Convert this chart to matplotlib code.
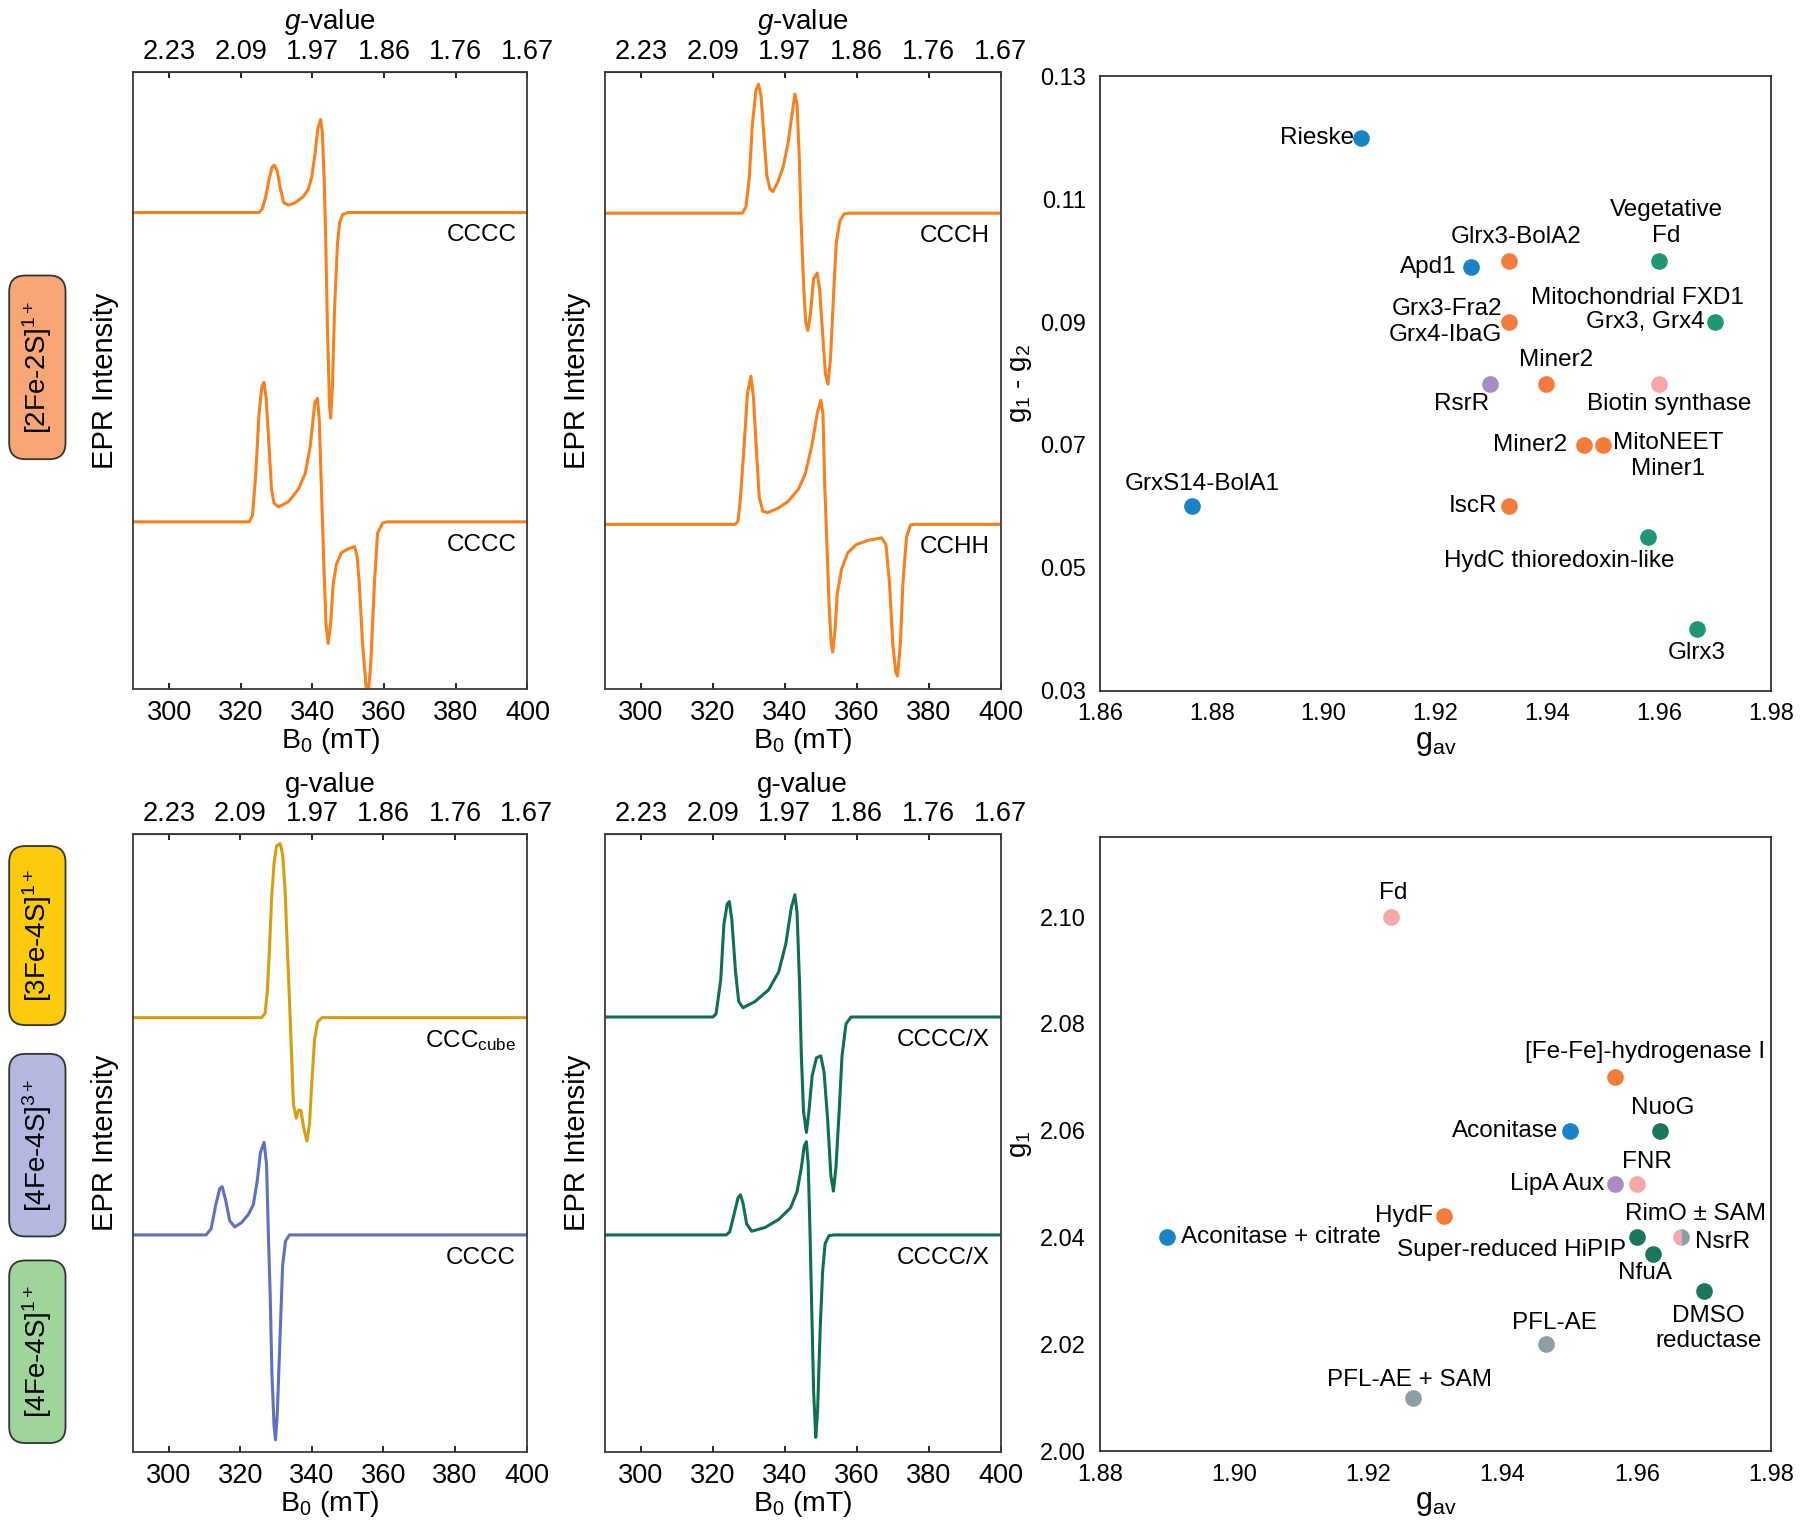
import matplotlib
matplotlib.use("Agg")
import matplotlib.pyplot as plt
from matplotlib.patches import FancyBboxPatch

plt.rcParams['font.family'] = ['Liberation Sans', 'DejaVu Sans']
plt.rcParams['mathtext.fontset'] = 'custom'
plt.rcParams['mathtext.rm'] = 'Liberation Sans'
plt.rcParams['mathtext.it'] = 'Liberation Sans:italic'
plt.rcParams['mathtext.bf'] = 'Liberation Sans:bold'

# ---------------- spectra (field in mT, intensity in a.u. relative to baseline)
B_TICKS = [300, 320, 340, 360, 380, 400]
G_LABELS = ["2.23", "2.09", "1.97", "1.86", "1.76", "1.67"]

fe2s_a_B = [290, 325.1, 326.0, 327.0, 327.9, 328.8, 329.4, 330.2, 331.1, 332.0, 333.4,
            335.2, 337.5, 338.9, 339.8, 340.7, 341.5, 342.3, 342.8, 343.3, 343.7, 344.2,
            344.8, 345.1, 345.6, 346.2, 347.0, 347.6, 348.5, 349.9, 400]
fe2s_a_I = [0, 0, 0.6, 2.6, 5.4, 7.4, 7.7, 6.7, 3.8, 1.6, 1.2,
            1.6, 2.6, 3.8, 5.8, 9.3, 13.5, 15.1, 12.8, 5.1, -3.8, -18.6,
            -31.4, -33.3, -28.2, -15.4, -5.1, -1.6, -0.3, 0, 0]

fe2s_b_B = [290, 322.4, 323.3, 324.2, 325.1, 325.9, 326.5, 327.1, 327.9, 328.6, 329.3,
            330.6, 333.4, 336.1, 338.0, 339.4, 340.7, 341.4, 341.9, 342.6, 343.2, 343.8,
            344.4, 345.1, 345.8, 346.7, 348.1, 349.9, 351.8, 352.5, 353.1, 354.0, 355.0,
            355.6, 356.3, 357.3, 358.2, 359.6, 360.9, 400]
fe2s_b_I = [0, 0, 1.1, 7.8, 17.4, 21.9, 22.6, 20, 12.3, 5.3, 3.0,
            2.4, 3.3, 5.3, 7.8, 12.3, 19.4, 20, 16.8, 4, -6.9, -16.5,
            -19.7, -16.5, -10.1, -6.9, -5.0, -4.4, -4.0, -5.6, -10.1, -19.7, -26.8,
            -27.8, -22.9, -10.1, -1.8, -0.2, 0, 0]

ccch_B = [290, 328.2, 329.2, 330.1, 331.0, 332.0, 332.7, 333.4, 334.2, 335.0, 335.9,
          336.7, 338.1, 339.5, 340.9, 342.1, 342.8, 343.4, 344.0, 344.5, 345.2, 345.8,
          346.4, 347.1, 348.0, 349.0, 349.7, 350.6, 351.3, 352.0, 352.7, 353.5, 354.3,
          355.3, 356.5, 357.9, 400]
ccch_I = [0, 0, 1.0, 5.5, 14.5, 19.9, 20.9, 19.0, 12.5, 6.1, 3.9,
          3.5, 5.1, 7.4, 11.3, 16.4, 19.3, 17.7, 9.3, -1.0, -11.3, -17.7,
          -19.0, -16.4, -10.6, -9.7, -12.5, -20.3, -26.1, -27.7, -23.5, -13.8, -4.8,
          -1.3, -0.1, 0, 0]

cchh_B = [290, 326.3, 327.0, 327.7, 328.7, 329.6, 330.6, 331.3, 332.1, 332.9, 333.9,
          335.3, 338.1, 340.9, 343.8, 345.7, 347.5, 349.0, 350.0, 350.6, 351.1, 351.7,
          352.3, 352.9, 353.3, 353.9, 354.6, 355.8, 357.5, 359.8, 363.1, 366.9, 368.1,
          369.1, 370.0, 370.8, 371.3, 372.1, 372.8, 373.8, 374.9, 376.3, 400]
cchh_I = [0, 0, 0.5, 4.4, 12.7, 21.1, 24.0, 20.5, 12.1, 4.4, 2.1,
          1.9, 2.6, 3.7, 5.7, 8.2, 12.7, 17.9, 20.1, 17.9, 6.3, -3.3,
          -13.0, -19.4, -20.7, -17.5, -11.1, -7.2, -4.6, -3.3, -2.6, -2.2, -3.3,
          -9.7, -19.4, -23.9, -24.6, -19.4, -9.7, -2.1, -0.1, 0, 0]

fe3s_B = [290, 325.9, 326.9, 327.5, 328.1, 328.7, 329.4, 330.1, 331.1, 331.8, 332.5,
          333.1, 333.7, 334.3, 334.8, 335.6, 336.2, 336.9, 337.7, 338.6, 339.3, 340.0,
          340.7, 341.6, 342.8, 400]
fe3s_I = [0, 0, 0.7, 4.2, 10.8, 19.2, 25.1, 27.8, 28.2, 26.4, 20.5,
          11.4, 2.9, -6.2, -14.0, -16.3, -15.0, -15.0, -17.9, -20.0, -17.3, -10.1,
          -3.6, -0.7, 0, 0]

fe4s3_B = [290, 310.4, 311.8, 313.1, 314.2, 314.9, 315.9, 317.0, 318.4, 320.3, 322.2,
           323.6, 324.7, 325.6, 326.6, 327.3, 327.8, 328.3, 328.8, 329.4, 329.8, 330.3,
           331.1, 331.8, 332.6, 333.7, 400]
fe4s3_I = [0, 0, 1.0, 4.9, 7.5, 7.8, 5.5, 2.3, 1.3, 2.0, 3.3,
           4.9, 8.8, 13.4, 15.0, 11.4, 0.3, -9.5, -22.5, -31.0, -33.2, -29.0,
           -16.0, -4.9, -1.0, 0, 0]

fe4s1_a_B = [290, 320.0, 320.9, 322.2, 323.1, 324.0, 324.6, 325.3, 326.3, 327.2, 328.4,
             331.7, 335.5, 338.3, 340.3, 341.8, 342.8, 343.4, 344.1, 344.6, 345.2, 346.0,
             346.7, 347.6, 348.8, 350.0, 350.9, 351.9, 352.8, 353.5, 354.2, 355.1, 355.9,
             357.0, 358.4, 359.8, 400]
fe4s1_a_I = [0, 0, 0.5, 6.0, 15.1, 18.3, 18.7, 15.7, 7.4, 2.5, 1.5,
             2.5, 4.4, 7.3, 11.9, 17.7, 19.8, 17.0, 5.4, -6.3, -15.3, -18.7,
             -15.3, -9.5, -6.6, -6.3, -8.9, -16.6, -25.7, -28.2, -24.4, -15.3, -6.3,
             -1.1, 0, 0, 0]

fe4s1_b_B = [290, 323.7, 324.7, 326.1, 327.0, 327.7, 328.4, 329.4, 330.8, 334.5, 338.3,
             341.6, 343.4, 344.6, 345.4, 346.0, 346.5, 347.0, 347.5, 348.0, 348.6, 349.1,
             349.8, 350.5, 351.2, 352.3, 353.7, 400]
fe4s1_b_I = [0, 0, 0.5, 3.8, 6.0, 6.5, 5.1, 1.8, 0.6, 1.2, 2.5,
             4.4, 7.0, 10.9, 14.4, 15.1, 11.5, 0.5, -12.4, -25.3, -32.8, -28.6,
             -15.7, -6.0, -1.4, -0.1, 0, 0]

# ---------------- scatter data
top_names = ["Rieske", "Apd1", "GrxS14-BolA1", "Glrx3-BolA2", "Grx3-Fra2\nGrx4-IbaG",
             "RsrR", "Miner2", "Miner2", "MitoNEET\nMiner1", "IscR", "Vegetative\nFd",
             "Mitochondrial FXD1|Grx3, Grx4", "Biotin synthase",
             "HydC thioredoxin-like", "Glrx3"]
top_gav = [1.9067, 1.9263, 1.8765, 1.9331, 1.9331, 1.9298, 1.9398, 1.9465, 1.9499,
           1.9331, 1.9600, 1.9700, 1.9600, 1.9580, 1.9667]
top_dg = [0.120, 0.099, 0.060, 0.100, 0.090, 0.080, 0.080, 0.070, 0.070,
          0.060, 0.100, 0.090, 0.080, 0.055, 0.040]
top_group = ["blue", "blue", "blue", "orange", "orange", "purple", "orange", "orange",
             "orange", "orange", "teal", "teal", "pink", "teal", "teal"]

bot_names = ["Fd", "[Fe-Fe]-hydrogenase I", "Aconitase", "NuoG", "LipA Aux", "FNR",
             "HydF", "Aconitase + citrate", "Super-reduced HiPIP", "NfuA",
             "RimO ± SAM|NsrR", "DMSO\nreductase", "PFL-AE", "PFL-AE + SAM"]
bot_gav = [1.9233, 1.9568, 1.9500, 1.9634, 1.9568, 1.9600, 1.9313, 1.8900, 1.9600,
           1.9624, 1.9666, 1.9700, 1.9465, 1.9266]
bot_g1 = [2.100, 2.070, 2.060, 2.060, 2.050, 2.050, 2.044, 2.040, 2.040, 2.037,
          2.040, 2.030, 2.020, 2.010]
bot_group = ["pink", "orange", "blue", "dkgreen", "purple", "pink", "orange", "blue",
             "dkgreen", "dkgreen", "pink/grey", "dkgreen", "grey", "grey"]

# ---------------- styles / layout
COL = {"blue": "#1784c7", "orange": "#f57b3b", "teal": "#1f9676", "dkgreen": "#1b765c",
       "purple": "#a78bc6", "pink": "#f7a7a6", "grey": "#8a9ea7"}
ORANGE = "#f7801f"
GOLD = "#d69e12"
LAV = "#5f70bd"
GREEN = "#0f6e55"

top_lab = [[(-5, 0, "right")], [(-10, 0, "right")], [(7, 16, "center")],
           [(5, 17, "center")], [(-5, 0, "right")], [(-21, -15, "center")],
           [(7, 17, "center")], [(-12, 0, "right")], [(47, -8, "center")],
           [(-8, 0, "right")], [(5, 27, "center")],
           [(-56, 17, "center"), (-8, 0, "right")], [(7, -15, "center")],
           [(-64, -17, "center")], [(0, -17, "center")]]
bot_lab = [[(2, 17, "center")], [(21, 18, "center")], [(-8, 0, "right")],
           [(2, 16, "center")], [(-8, 0, "right")], [(7, 16, "center")],
           [(-8, 0, "right")], [(10, 0, "left")], [(-8, -9, "right")],
           [(-6, -14, "center")], [(10, 17, "center"), (10, -3, "left")],
           [(3, -27, "center")], [(6, 15, "center")], [(-2, 13, "center")]]

fig = plt.figure(figsize=(18, 15.28), dpi=100)


def spectrum_axes(rect, curves, italic_g):
    ax = fig.add_axes(rect)
    for b, inten, base, name, col in curves:
        ax.plot(b, [base + v for v in inten], color=col, lw=2.2, solid_joinstyle='round')
        ax.text(397, base - 3.7, name, ha='right', va='center', fontsize=17.5)
    ax.set_xlim(290, 400)
    ax.set_ylim(0, 100)
    ax.set_yticks([])
    ax.set_xticks(B_TICKS)
    ax.tick_params(axis='x', direction='in', length=4, width=1.2, labelsize=19.5, pad=8)
    ax.set_ylabel("EPR Intensity", fontsize=21, labelpad=10)
    ax.set_xlabel(r"B$_0$ (mT)", fontsize=20.5, labelpad=0)
    for s in ax.spines.values():
        s.set_color("#3a3a3a")
        s.set_linewidth(1.3)
    sec = ax.secondary_xaxis('top')
    sec.set_xticks(B_TICKS, labels=G_LABELS)
    sec.tick_params(direction='in', length=4, width=1.2, labelsize=19.5, pad=5)
    sec.set_xlabel(r"$g$-value" if italic_g else "g-value", fontsize=20, labelpad=7)
    return ax


spectrum_axes([0.074, 0.549, 0.219, 0.404],
              [(fe2s_a_B, fe2s_a_I, 77.2, "CCCC", ORANGE),
               (fe2s_b_B, fe2s_b_I, 27.1, "CCCC", ORANGE)], True)
spectrum_axes([0.336, 0.549, 0.220, 0.404],
              [(ccch_B, ccch_I, 77.1, "CCCH", ORANGE),
               (cchh_B, cchh_I, 26.7, "CCHH", ORANGE)], True)
spectrum_axes([0.074, 0.050, 0.2185, 0.404],
              [(fe3s_B, fe3s_I, 70.3, r"CCC$_{\mathrm{cube}}$", GOLD),
               (fe4s3_B, fe4s3_I, 35.1, "CCCC", LAV)], False)
spectrum_axes([0.336, 0.050, 0.220, 0.404],
              [(fe4s1_a_B, fe4s1_a_I, 70.4, "CCCC/X", GREEN),
               (fe4s1_b_B, fe4s1_b_I, 35.1, "CCCC/X", GREEN)], False)


def scatter_axes(rect, names, xs, ys, groups, labs, xlim, ylim, yticks, ylabel):
    ax = fig.add_axes(rect)
    for n, x, y, g, lab in zip(names, xs, ys, groups, labs):
        if "/" in g:
            c1, c2 = g.split("/")
            ax.plot([x], [y], marker='o', ms=12, fillstyle='left', mfc=COL[c1],
                    mfcalt=COL[c2], mew=0, ls='none', zorder=3)
        else:
            ax.scatter([x], [y], s=144, color=COL[g], lw=0, zorder=3)
        for part, (dx, dy, ha) in zip(n.split("|"), lab):
            ax.annotate(part, (x, y), xytext=(dx, dy), textcoords='offset points',
                        ha=ha, va='center', fontsize=17.5,
                        multialignment='center' if ha == 'center' else ha)
    ax.set_xlim(*xlim)
    ax.set_ylim(*ylim)
    nx = int(round((xlim[1] - xlim[0]) / 0.02))
    xt = [round(xlim[0] + 0.02 * i, 2) for i in range(nx + 1)]
    ax.set_xticks(xt, labels=[f"{t:.2f}" for t in xt])
    ax.set_yticks(yticks, labels=[f"{t:.2f}" for t in yticks])
    ax.tick_params(length=0, labelsize=17)
    ax.tick_params(axis='x', pad=9)
    ax.tick_params(axis='y', pad=10)
    ax.set_xlabel(r"g$_{\mathrm{av}}$", fontsize=22, labelpad=2)
    ax.set_ylabel(ylabel, fontsize=20, labelpad=4)
    for s in ax.spines.values():
        s.set_color("#222222")
        s.set_linewidth(1.2)
    return ax


scatter_axes([0.611, 0.548, 0.373, 0.402], top_names, top_gav, top_dg, top_group,
             top_lab, (1.86, 1.98), (0.03, 0.13), [0.03, 0.05, 0.07, 0.09, 0.11, 0.13],
             r"g$_1$ - g$_2$")
scatter_axes([0.611, 0.0503, 0.373, 0.402], bot_names, bot_gav, bot_g1, bot_group,
             bot_lab, (1.88, 1.98), (2.0, 2.115), [2.00, 2.02, 2.04, 2.06, 2.08, 2.10],
             r"g$_1$")

# cluster type tags on the left
tags = [(r"[2Fe-2S]$^{1+}$", "#f9a677", 0.6995, 0.1202),
        (r"[3Fe-4S]$^{1+}$", "#fbcb0c", 0.3291, 0.1172),
        (r"[4Fe-4S]$^{3+}$", "#b4b8e0", 0.1908, 0.1195),
        (r"[4Fe-4S]$^{1+}$", "#9fd49b", 0.0556, 0.1195)]
for txt, fc, y0, h in tags:
    box = FancyBboxPatch((0.0051, y0), 0.0313, h, boxstyle="round,pad=0,rounding_size=0.009",
                         transform=fig.transFigure, fc=fc, ec="#333333", lw=1.3,
                         mutation_aspect=18 / 15.28)
    fig.patches.append(box)
    fig.text(0.0051 + 0.0313 / 2, y0 + h / 2, txt, rotation=90, ha='center', va='center',
             fontsize=20)

fig.savefig("out.png", dpi=100)
